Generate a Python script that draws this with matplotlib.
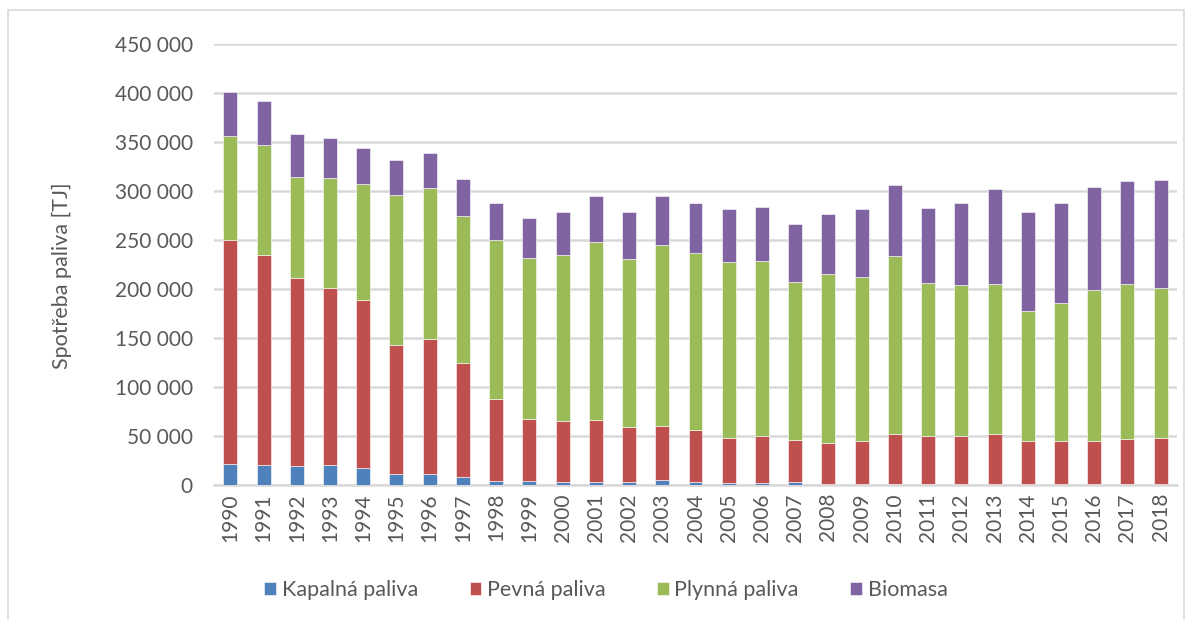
import matplotlib.pyplot as plt
import matplotlib.ticker as mticker
import numpy as np

# Spotřeba paliva podle druhu [TJ]
years = list(range(1990, 2019))
kapalna = [21000, 20600, 18600, 19600, 17300, 10800, 11200, 7400, 4100, 4100,
           3000, 2700, 2400, 5100, 2400, 2000, 2000, 2400, 1000, 1000,
           800, 700, 600, 500, 500, 500, 500, 500, 500]
pevna = [228400, 213900, 192600, 181400, 171500, 132300, 138000, 117100, 83500, 62900,
         61700, 63100, 56600, 55200, 53500, 45500, 47500, 43000, 41700, 43400,
         50700, 48800, 49600, 51000, 44600, 44600, 43900, 46600, 47300]
plynna = [106600, 112400, 102800, 111700, 117800, 152700, 154000, 150300, 161800, 164100,
          169900, 182000, 171500, 184800, 180400, 180300, 179000, 161700, 171900, 167800,
          182400, 156600, 153200, 153900, 132500, 140000, 154200, 157600, 152900]
biomasa = [44700, 45300, 44000, 41300, 36900, 35200, 35500, 37200, 38600, 41300,
           43700, 46800, 48100, 49800, 51500, 53900, 54600, 58700, 62000, 68800,
           71900, 76300, 84400, 96000, 101000, 102400, 105100, 105100, 110500]

series = [("Kapalná paliva", kapalna, "#4F81BD"),
          ("Pevná paliva", pevna, "#C0504D"),
          ("Plynná paliva", plynna, "#9BBB59"),
          ("Biomasa", biomasa, "#8064A2")]

txt = "#595959"
plt.rcParams['font.family'] = ['Lato', 'DejaVu Sans']

fig = plt.figure(figsize=(11.94, 6.19), dpi=100)
ax = fig.add_axes([0.179, 0.217, 0.807, 0.712])

x = np.arange(len(years))
bottom = np.zeros(len(years))
for name, vals, col in series:
    ax.bar(x, vals, bottom=bottom, width=0.42, color=col, label=name,
           edgecolor="white", linewidth=0.4, zorder=3)
    bottom += np.array(vals)

ax.set_xlim(-0.5, len(years) - 0.5)
ax.set_ylim(0, 450000)
ax.yaxis.set_major_locator(mticker.MultipleLocator(50000))
ax.yaxis.set_major_formatter(mticker.FuncFormatter(lambda v, p: f"{int(v):,}".replace(",", " ")))
ax.set_xticks(x)
ax.set_xticklabels([str(y) for y in years], rotation=90)
ax.tick_params(axis="both", length=0, labelsize=15, colors=txt)
ax.tick_params(axis="y", pad=15)
ax.tick_params(axis="x", pad=6)
ax.grid(axis="y", color="#d9d9d9", linewidth=1.8, zorder=0)
for s in ["top", "right", "left"]:
    ax.spines[s].set_visible(False)
ax.spines["bottom"].set_color("#d9d9d9")
ax.spines["bottom"].set_linewidth(1.8)

fig.text(0.052, 0.555, "Spotřeba paliva [TJ]", rotation=90, ha="center", va="center",
         fontsize=15.5, color=txt)

fig.legend(loc="center", bbox_to_anchor=(0.5075, 0.047), ncol=4, frameon=False,
           fontsize=15.5, labelcolor=txt, handlelength=0.55, handleheight=0.55,
           handletextpad=0.25, columnspacing=2.4)

# rámeček grafu
fig.patches.append(plt.Rectangle((8 / 1194, -0.01), 1176 / 1194, 1 - 10 / 619 + 0.01,
                                 transform=fig.transFigure, fill=False,
                                 edgecolor="#d9d9d9", linewidth=1.2))

fig.savefig("out.png", dpi=100)
